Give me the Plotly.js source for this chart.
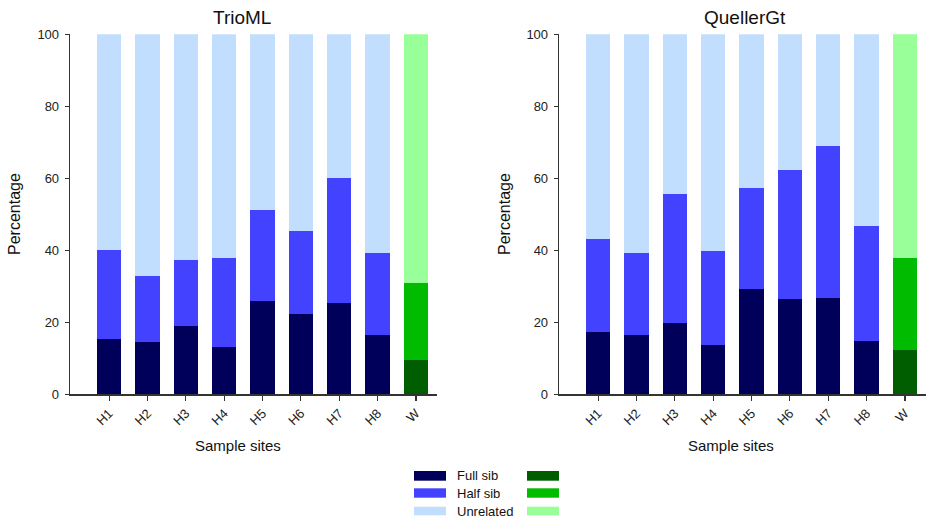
<!DOCTYPE html>
<html>
<head>
<meta charset="utf-8">
<script src="https://cdn.plot.ly/plotly-3.0.1.min.js"></script>
<style>html,body{margin:0;padding:0;background:#fff;}#chart{width:928px;height:518px;}</style>
</head>
<body>
<div id="chart"></div>
<script>
// ---- data ----
const sites = ["H1","H2","H3","H4","H5","H6","H7","H8","W"];
const seriesNames = ["Full sib","Half sib","Unrelated"];

const trioFull      = [15.4,14.5,19.0,13.1,25.9,22.2,25.4,16.5,9.5];
const trioHalf      = [24.7,18.4,18.3,24.8,25.3,23.3,34.6,22.7,21.5];
const trioUnrelated = [59.9,67.1,62.7,62.1,48.8,54.5,40.0,60.8,69.0];

const quellerFull      = [17.2,16.6,19.7,13.6,29.2,26.5,26.7,14.9,12.3];
const quellerHalf      = [26.0,22.6,35.9,26.2,28.2,35.7,42.3,31.9,25.7];
const quellerUnrelated = [56.8,60.8,44.4,60.2,42.6,37.8,31.0,53.2,62.0];

const blueColors  = ["#00005A","#4242FF","#C2DEFF"];
const greenColors = ["#005E00","#00BB00","#99FF99"];
const yTicks = [0,20,40,60,80,100];

// ---- build ----
const FONT = "Liberation Sans, Arial, sans-serif";
const W = 928, H = 518;
const px = v => v / W;
const py = v => 1 - v / H;

function colorsFor(i){
  return sites.map(s => s === "W" ? greenColors[i] : blueColors[i]);
}

function makeTraces(vals, xa, ya){
  return vals.map((v, i) => ({
    type: "bar",
    x: sites,
    y: v,
    name: seriesNames[i],
    xaxis: xa, yaxis: ya,
    width: 0.63,
    marker: {color: colorsFor(i), line: {width: 0}},
    showlegend: false,
    hoverinfo: "x+y+name"
  }));
}

const traces = [
  ...makeTraces([trioFull, trioHalf, trioUnrelated], "x", "y"),
  ...makeTraces([quellerFull, quellerHalf, quellerUnrelated], "x2", "y2")
];

const yDom = [py(394.3), py(34.3)];

function xAxis(dom, anchor){
  return {
    domain: dom, anchor: anchor, type: "category",
    range: [-1.02, 8.55],
    showline: true, linecolor: "#333", linewidth: 1.3,
    ticks: "outside", ticklen: 5, tickwidth: 1.2, tickcolor: "#333",
    tickangle: -45, tickfont: {family: FONT, size: 13, color: "#222"},
    showgrid: false, zeroline: false, fixedrange: true
  };
}
function yAxis(anchor){
  return {
    domain: yDom, anchor: anchor, range: [0, 100],
    tickvals: yTicks, ticktext: yTicks.map(String),
    showline: true, linecolor: "#333", linewidth: 1.3,
    ticks: "outside", ticklen: 4, tickwidth: 1.2, tickcolor: "#333",
    ticklabelstandoff: 3,
    tickfont: {family: FONT, size: 13, color: "#222"},
    showgrid: false, zeroline: false, fixedrange: true
  };
}

const annotations = [];
function ann(text, x, y, size, extra){
  annotations.push(Object.assign({
    text: text, xref: "paper", yref: "paper", x: px(x), y: py(y),
    xanchor: "center", yanchor: "middle", showarrow: false,
    font: {family: FONT, size: size, color: "#111"}
  }, extra || {}));
}
ann("TrioML", 242, 17, 19);
ann("QuellerGt", 744.5, 17, 19);
ann("Sample sites", 237.5, 446, 15);
ann("Sample sites", 730.5, 446, 15);
ann("Percentage", 14, 214, 16, {textangle: -90});
ann("Percentage", 504, 214, 16, {textangle: -90});

// legend built from series names and colours
const shapes = [];
const rowY = [[471, 480.7], [488.3, 497.7], [506.7, 515.3]];
seriesNames.forEach((name, i) => {
  const [y0, y1] = rowY[i];
  shapes.push({type: "rect", xref: "paper", yref: "paper",
    x0: px(414), x1: px(446), y0: py(y1), y1: py(y0),
    fillcolor: blueColors[i], line: {width: 0}});
  shapes.push({type: "rect", xref: "paper", yref: "paper",
    x0: px(527), x1: px(559), y0: py(y1), y1: py(y0),
    fillcolor: greenColors[i], line: {width: 0}});
  ann(name, 455, (y0 + y1) / 2, 13, {xanchor: "left"});
});

const layout = {
  width: W, height: H,
  margin: {l: 0, r: 0, t: 0, b: 0},
  paper_bgcolor: "#fff", plot_bgcolor: "#fff",
  barmode: "stack", bargap: 0.37,
  font: {family: FONT, color: "#222"},
  showlegend: false,
  xaxis: xAxis([px(70), px(437)], "y"),
  yaxis: yAxis("x"),
  xaxis2: xAxis([px(559), px(926)], "y2"),
  yaxis2: yAxis("x2"),
  annotations: annotations,
  shapes: shapes
};

Plotly.newPlot("chart", traces, layout, {displayModeBar: false, staticPlot: true});
</script>
</body>
</html>
